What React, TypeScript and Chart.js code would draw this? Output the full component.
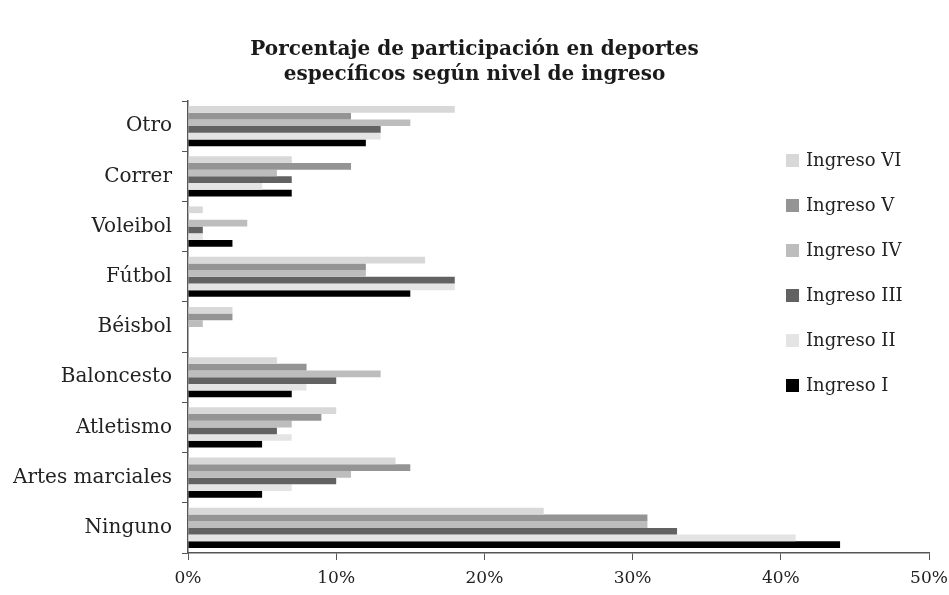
import React, { useEffect, useRef } from "react";
import { Chart, registerables } from "chart.js";

Chart.register(...registerables);

const categories = ["Otro", "Correr", "Voleibol", "Fútbol", "Béisbol", "Baloncesto", "Atletismo", "Artes marciales", "Ninguno"];
const seriesNames = ["Ingreso VI", "Ingreso V", "Ingreso IV", "Ingreso III", "Ingreso II", "Ingreso I"];
const ingresoVI = [18, 7, 1, 16, 3, 6, 10, 14, 24];
const ingresoV = [11, 11, 0, 12, 3, 8, 9, 15, 31];
const ingresoIV = [15, 6, 4, 12, 1, 13, 7, 11, 31];
const ingresoIII = [13, 7, 1, 18, 0, 10, 6, 10, 33];
const ingresoII = [13, 5, 1, 18, 0, 8, 7, 7, 41];
const ingresoI = [12, 7, 3, 15, 0, 7, 5, 5, 44];
const xTicks = [0, 10, 20, 30, 40, 50];
const titleLines = ["Porcentaje de participación en deportes", "específicos según nivel de ingreso"];

const colors = ["#d8d8d8", "#949494", "#bdbdbd", "#626262", "#e4e4e4", "#000000"];
const FONT = "'DejaVu Serif', serif";

const legendPlugin = {
  id: "customLegend",
  afterDraw(chart: any) {
    const ctx = chart.ctx;
    ctx.save();
    ctx.font = `18px ${FONT}`;
    ctx.textBaseline = "middle";
    chart.data.datasets.forEach((ds: any, i: number) => {
      const cy = 160 + i * 45;
      ctx.fillStyle = ds.backgroundColor;
      ctx.fillRect(786, cy - 6, 13, 13);
      ctx.fillStyle = "#222";
      ctx.fillText(ds.label, 806, cy + 1);
    });
    ctx.restore();
  },
};

export default function App() {
  const ref = useRef<HTMLCanvasElement>(null);
  useEffect(() => {
    const values = [ingresoVI, ingresoV, ingresoIV, ingresoIII, ingresoII, ingresoI];
    const chart = new Chart(ref.current!, {
      type: "bar",
      data: {
        labels: categories,
        datasets: values.map((v, i) => ({
          label: seriesNames[i],
          data: v,
          backgroundColor: colors[i],
          borderWidth: 0,
          categoryPercentage: 0.8,
          barPercentage: 1.0,
        })),
      },
      options: {
        indexAxis: "y",
        animation: false,
        responsive: false,
        layout: { padding: { left: 0, right: 0, top: 0, bottom: 0 } },
        plugins: {
          legend: { display: false },
          tooltip: { enabled: false },
          title: {
            display: true,
            text: titleLines,
            color: "#1a1a1a",
            font: { family: FONT, size: 20, weight: "bold", lineHeight: 1.25 },
            padding: { top: 37, bottom: 14 },
          },
        },
        scales: {
          x: {
            min: 0,
            max: 50,
            afterBuildTicks: (scale: any) => {
              scale.ticks = xTicks.map((v) => ({ value: v }));
            },
            ticks: {
              color: "#222",
              font: { family: FONT, size: 17 },
              padding: 8,
              callback: (v: any) => v + "%",
            },
            grid: { display: true, drawOnChartArea: false, drawTicks: true, tickLength: 7, color: "#555", lineWidth: 1 },
            border: { display: true, color: "#555", width: 1.5 },
            afterFit: (scale: any) => {
              scale.height = 42;
              scale.paddingRight = 20;
              scale.paddingLeft = 0;
            },
          },
          y: {
            ticks: { color: "#222", font: { family: FONT, size: 20 }, padding: 10 },
            grid: { display: true, drawOnChartArea: false, drawTicks: true, tickLength: 6, color: "#555", lineWidth: 1, offset: true },
            border: { display: true, color: "#555", width: 1.5 },
            afterFit: (scale: any) => {
              scale.width = 188;
            },
          },
        },
      } as any,
      plugins: [legendPlugin],
    });
    return () => chart.destroy();
  }, []);
  return (
    <div style={{ position: "fixed", left: 0, top: 0, width: 949, height: 595, background: "#fff" }}>
      <canvas ref={ref} width={949} height={595} />
    </div>
  );
}
